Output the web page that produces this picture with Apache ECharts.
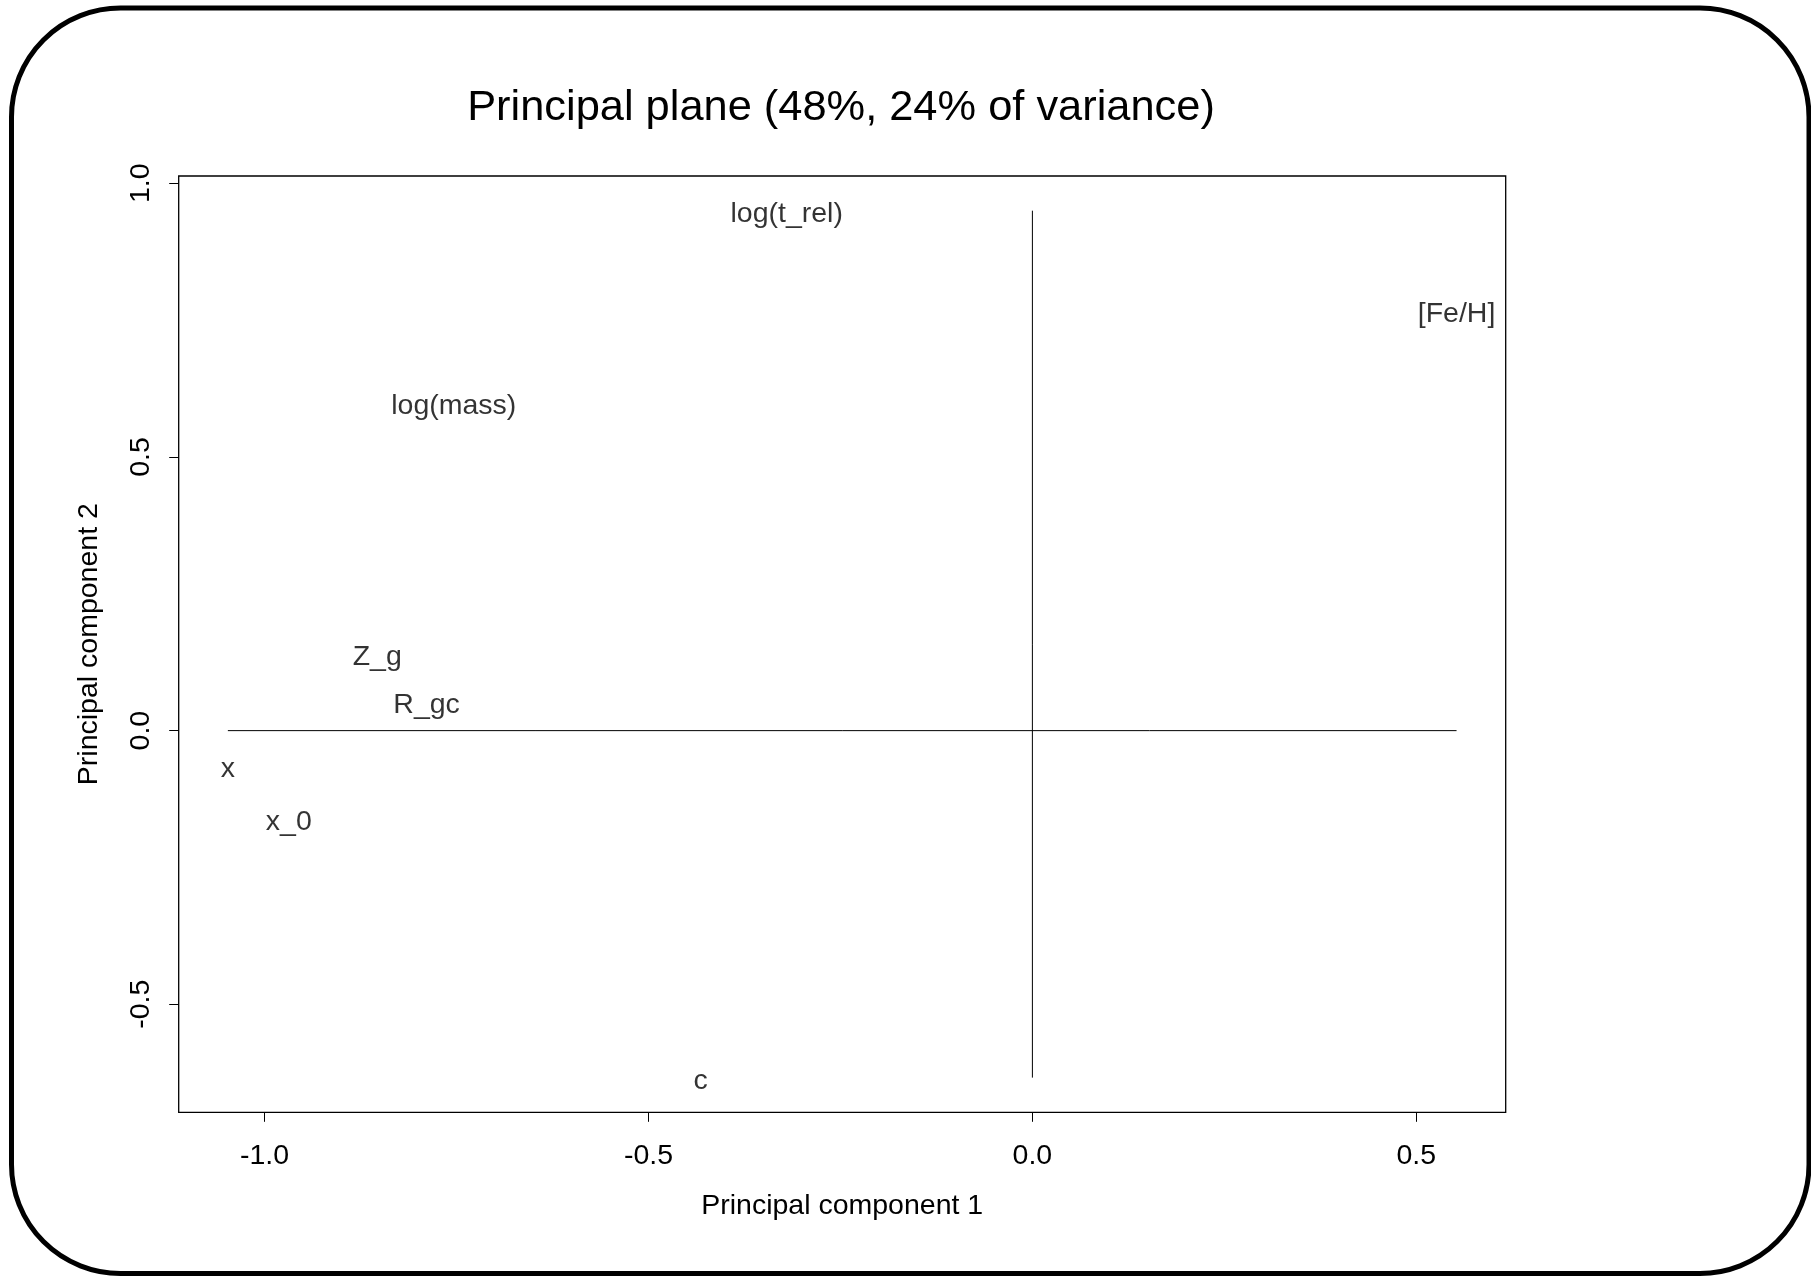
<!DOCTYPE html>
<html>
<head>
<meta charset="utf-8">
<script src="https://cdn.jsdelivr.net/npm/echarts@6/dist/echarts.min.js"></script>
<style>
  html, body { margin: 0; padding: 0; background: #fff; }
  #chart { width: 1811px; height: 1276px; }
</style>
</head>
<body>
<div id="chart"></div>
<script>
// ---- data ----
const variables = ['log(t_rel)', '[Fe/H]', 'log(mass)', 'Z_g', 'R_gc', 'x', 'x_0', 'c'];
const pc1 = [-0.320, 0.5524, -0.7536, -0.8533, -0.789, -1.0478, -0.9684, -0.4321];
const pc2 = [0.950, 0.768, 0.599, 0.141, 0.0524, -0.0635, -0.161, -0.634];
const xTicks = [-1.0, -0.5, 0.0, 0.5];
const yTicks = [-0.5, 0.0, 0.5, 1.0];
const titleText = 'Principal plane (48%, 24% of variance)';
const xName = 'Principal component 1';
const yName = 'Principal component 2';

// R-style axis range: data range extended by 4% on each side
const xMin = Math.min(...pc1), xMax = Math.max(...pc1);
const yMin = Math.min(...pc2), yMax = Math.max(...pc2);
const xPad = 0.04 * (xMax - xMin), yPad = 0.04 * (yMax - yMin);

const FONT = 'Liberation Sans';
const FS = 28.5;

const chart = echarts.init(document.getElementById('chart'), null, { renderer: 'canvas' });
chart.setOption({
  animation: false,
  backgroundColor: '#fff',
  title: {
    text: titleText,
    left: 836,
    top: 82,
    textAlign: 'center',
    textStyle: { fontFamily: FONT, fontSize: 43.4, fontWeight: 'normal', color: '#000' }
  },
  graphic: [{
    type: 'rect',
    silent: true,
    shape: { x: 11.5, y: 8, width: 1797.5, height: 1265.5, r: 109 },
    style: { fill: 'none', stroke: '#000', lineWidth: 5 }
  }],
  grid: {
    left: 178.7, right: 305.3, top: 176, bottom: 163.7,
    show: true, borderColor: '#000', borderWidth: 1.3, backgroundColor: 'transparent'
  },
  xAxis: {
    type: 'value',
    min: xMin - xPad, max: xMax + xPad,
    name: xName, nameLocation: 'middle', nameGap: 79,
    nameTextStyle: { fontFamily: FONT, fontSize: FS, color: '#000' },
    axisLine: { show: false, onZero: false },
    splitLine: { show: false },
    axisTick: { show: true, inside: false, length: 9.5, customValues: xTicks, lineStyle: { color: '#000', width: 1 } },
    axisLabel: {
      show: true, margin: 29, customValues: xTicks,
      fontFamily: FONT, fontSize: FS, color: '#000',
      formatter: v => v.toFixed(1)
    }
  },
  yAxis: {
    type: 'value',
    min: yMin - yPad, max: yMax + yPad,
    name: yName, nameLocation: 'middle', nameGap: 75, nameRotate: 90,
    nameTextStyle: { fontFamily: FONT, fontSize: FS, color: '#000' },
    axisLine: { show: false, onZero: false },
    splitLine: { show: false },
    axisTick: { show: true, inside: false, length: 9.5, customValues: yTicks, lineStyle: { color: '#000', width: 1 } },
    axisLabel: {
      show: true, margin: 23, rotate: 90, customValues: yTicks,
      fontFamily: FONT, fontSize: FS, color: '#000',
      formatter: v => v.toFixed(1)
    }
  },
  series: [
    {
      type: 'line',
      data: [[xMin, 0], [xMax, 0]],
      symbol: 'none',
      lineStyle: { color: '#000', width: 1 },
      silent: true
    },
    {
      type: 'line',
      data: [[0, yMin], [0, yMax]],
      symbol: 'none',
      lineStyle: { color: '#000', width: 1 },
      silent: true
    },
    {
      type: 'scatter',
      symbolSize: 1,
      itemStyle: { color: 'rgba(0,0,0,0)' },
      data: variables.map((n, i) => ({ name: n, value: [pc1[i], pc2[i]] })),
      label: {
        show: true, position: 'inside', formatter: '{b}',
        fontFamily: FONT, fontSize: FS, color: '#000',
        align: 'center', verticalAlign: 'middle', offset: [0, 3.5]
      }
    }
  ]
});
</script>
</body>
</html>
